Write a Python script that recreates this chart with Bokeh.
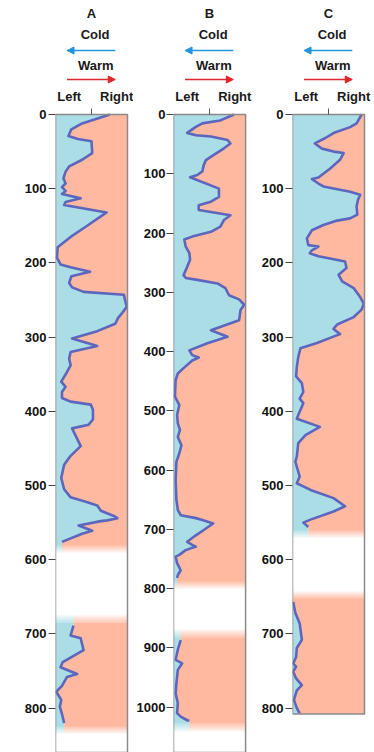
from bokeh.plotting import figure
from bokeh.layouts import row
from bokeh.models import Range1d, FixedTicker, Label, Arrow, NormalHead
from bokeh.embed import file_html
from bokeh.resources import INLINE

# ---------------- data (depth, position 0=Left .. 1=Right) ----------------
a1_depth = [0, 12, 20, 29, 33, 36, 52, 61, 70, 77, 86, 93, 98, 103, 107, 113, 118, 122, 132, 150,
            165, 179, 193, 202, 206, 212, 218, 227, 233, 239, 243, 252, 259, 267, 274, 282, 292, 302,
            312, 320, 329, 338, 347, 360, 367, 374, 382, 387, 391, 398, 411, 418, 423, 447, 460, 472,
            490, 505, 516, 522, 527, 534, 541, 544, 547, 548, 554, 561, 565, 576]
a1_pos = [.755, .37, .22, .18, .31, .50, .51, .37, .19, .14, .11, .14, .09, .14, .09, .35, .14, .12, .71, .44,
          .21, .03, .02, .07, .21, .48, .22, .19, .23, .39, .95, .97, .99, .93, .87, .83, .58, .23,
          .58, .21, .19, .21, .16, .08, .14, .09, .09, .21, .49, .52, .52, .46, .23, .35, .21, .12,
          .08, .12, .21, .42, .58, .63, .81, .86, .72, .63, .32, .51, .37, .09]
a2_depth = [689, 702, 706, 722, 738, 745, 754, 758, 770, 778, 789, 798, 808, 820]
a2_pos = [.25, .21, .35, .39, .10, .07, .30, .16, .09, .01, .08, .06, .09, .12]

b1_depth = [0, 10, 15, 21, 31, 35, 37, 43, 49, 57, 68, 77, 85, 96, 102, 106, 125, 139, 147, 153,
            161, 170, 178, 189, 198, 206, 211, 223, 234, 245, 257, 271, 276, 279, 285, 293, 305, 312,
            321, 330, 347, 364, 375, 386, 398, 406, 410, 415, 430, 437, 448, 476, 490, 507, 521, 532,
            544, 558, 572, 586, 617, 650, 667, 676, 681, 684, 690, 701, 710, 721, 726, 729, 735, 743,
            746, 757, 769, 777, 782]
b1_pos = [.84, .65, .40, .31, .19, .31, .52, .75, .79, .70, .56, .45, .42, .40, .33, .23, .63, .63, .52, .35,
          .35, .79, .70, .65, .52, .26, .15, .17, .22, .23, .19, .14, .17, .33, .61, .72, .77, .91,
          .98, .93, .91, .52, .75, .47, .22, .26, .35, .26, .12, .06, .03, .02, .08, .05, .06, .09,
          .06, .11, .08, .04, .03, .04, .06, .10, .31, .40, .55, .42, .31, .19, .26, .31, .17, .08,
          .03, .05, .10, .06, .05]
b2_depth = [887, 903, 920, 926, 937, 960, 977, 993, 1010, 1016, 1022, 1023]
b2_pos = [.10, .06, .03, .12, .06, .04, .03, .06, .05, .10, .19, .22]

c1_depth = [0, 12, 17, 25, 32, 39, 46, 50, 52, 61, 73, 85, 87, 93, 97, 104, 108, 115, 124, 135,
            140, 143, 149, 156, 167, 176, 178, 183, 187, 191, 194, 198, 207, 216, 225, 234, 246, 255,
            263, 273, 283, 289, 296, 300, 308, 315, 327, 340, 353, 362, 374, 383, 389, 405, 410, 421,
            432, 443, 461, 468, 488, 497, 506, 517, 528, 535, 546, 550, 556]
c1_pos = [.96, .89, .80, .57, .45, .31, .41, .57, .71, .66, .52, .36, .27, .36, .43, .80, .94, .91, .89, .90,
          .80, .62, .43, .27, .20, .22, .36, .27, .24, .36, .52, .73, .75, .64, .69, .85, .94, .99,
          .96, .85, .62, .57, .66, .55, .34, .11, .08, .06, .05, .13, .15, .10, .15, .08, .06, .38,
          .18, .08, .06, .04, .10, .06, .25, .57, .73, .57, .25, .15, .22]
c2_depth = [657, 672, 686, 708, 719, 731, 740, 744, 751, 760, 769, 776, 789, 800, 807]
c2_pos = [.01, .04, .10, .13, .06, .05, .01, .05, .01, .05, .13, .06, .02, .06, .10]

a_ticks = [0, 100, 200, 300, 400, 500, 600, 700, 800]
b_ticks = [0, 100, 200, 300, 400, 500, 600, 700, 800, 900, 1000]
c_ticks = [0, 100, 200, 300, 400, 500, 600, 700, 800]
c_depth_max = 808

# ---------------- style / layout ----------------
BLUE = "#aadde6"
SALMON = "#ffb9a0"
LINE = "#5d66bd"
FRAME = "#8a8a8a"
FONT = "Liberation Sans"
HEIGHT = 752
TOP = 114          # pixel row of depth 0


def segment(p, d, x, s, top_mode, bottom_mode, dmax):
    dd = list(d)
    xx = list(x)
    solid = 3.0 / s
    fade_n = 8
    step = 1.0 / s
    if top_mode == "fade":
        dd = [d[0] - solid] + dd
        xx = [x[0]] + xx
    if bottom_mode == "fade":
        dd = dd + [d[-1] + solid]
        xx = xx + [x[-1]]
    elif bottom_mode == "edge":
        dd = dd + [dmax]
        xx = xx + [x[-1]]
    p.harea(x1=[0] * len(dd), x2=xx, y=dd, fill_color=BLUE)
    p.harea(x1=xx, x2=[1] * len(dd), y=dd, fill_color=SALMON)
    for mode, edge, xe, sign in (("t", dd[0], xx[0], -1), ("b", dd[-1], xx[-1], 1)):
        if (mode == "t" and top_mode != "fade") or (mode == "b" and bottom_mode != "fade"):
            continue
        tops = [edge + sign * k * step for k in range(fade_n)]
        bots = [edge + sign * (k + 1) * step for k in range(fade_n)]
        alphas = [1 - (k + 1) / (fade_n + 1) for k in range(fade_n)]
        p.quad(left=0, right=xe, top=tops, bottom=bots, fill_color=BLUE,
               fill_alpha=alphas, line_color=None)
        p.quad(left=xe, right=1, top=tops, bottom=bots, fill_color=SALMON,
               fill_alpha=alphas, line_color=None)
    p.line(x, d, line_color=LINE, line_width=2.6, line_join="round")


def panel(letter, segs, s, box_max, ticks, bl, frame_w, br, standoff=2):
    top_units = TOP / s
    view_max = (HEIGHT - TOP) / s
    if box_max is None:
        box_max = view_max
    x_max = (frame_w + br) / frame_w
    p = figure(width=bl + frame_w + br, height=HEIGHT, output_backend="svg", toolbar_location=None,
               x_range=Range1d(0, x_max), y_range=Range1d(view_max, -top_units),
               x_axis_location=None, y_axis_location="left",
               min_border_left=bl, min_border_right=0, min_border_top=0, min_border_bottom=0)
    p.grid.visible = False
    p.outline_line_color = None
    p.background_fill_color = "white"
    p.border_fill_color = "white"
    for (d, x, tm, bm) in segs:
        segment(p, d, x, s, tm, bm, box_max)

    # panel box and the middle tick on top
    p.quad(left=0, right=1, top=0, bottom=box_max, fill_color=None,
           line_color=FRAME, line_width=1.5)
    p.segment(x0=[0.5], y0=[0], x1=[0.5], y1=[-6 / s], line_color="#555555", line_width=1)

    ya = p.yaxis[0]
    ya.ticker = FixedTicker(ticks=ticks)
    ya.axis_line_color = None
    ya.major_tick_out = 7
    ya.major_tick_in = 0
    ya.minor_tick_line_color = None
    ya.major_tick_line_color = "#444444"
    ya.major_label_standoff = standoff
    ya.major_label_text_font = FONT
    ya.major_label_text_font_style = "bold"
    ya.major_label_text_font_size = "13px"
    ya.major_label_text_color = "#111111"

    def ypx(y):
        return (y - TOP) / s

    def lab(text, x, y):
        p.add_layout(Label(x=x, y=ypx(y), text=text, text_font=FONT, text_font_style="bold",
                           text_font_size="13px", text_align="center", text_baseline="middle",
                           text_color="#1a1a1a"))

    lab(letter, 0.5, 13)
    lab("Cold", 0.55, 34)
    lab("Warm", 0.56, 65)
    lab("Left", 0.19, 96)
    lab("Right", 0.85, 96)
    p.add_layout(Arrow(x_start=0.83, y_start=ypx(50), x_end=0.16, y_end=ypx(50),
                       line_color="#1f96dc", line_width=1.5,
                       end=NormalHead(size=7, fill_color="#1f96dc", line_color="#1f96dc")))
    p.add_layout(Arrow(x_start=0.16, y_start=ypx(79), x_end=0.83, y_end=ypx(79),
                       line_color="#e0262a", line_width=1.5,
                       end=NormalHead(size=7, fill_color="#e0262a", line_color="#e0262a")))
    return p


S_A = 0.742
S_B = 0.5927
S_C = 0.742

pA = panel("A", [(a1_depth, a1_pos, "edge", "fade"), (a2_depth, a2_pos, "fade", "fade")],
           S_A, None, a_ticks, 55, 72, 6)
pB = panel("B", [(b1_depth, b1_pos, "edge", "fade"), (b2_depth, b2_pos, "fade", "fade")],
           S_B, None, b_ticks, 39, 73, 7, standoff=1)
pC = panel("C", [(c1_depth, c1_pos, "edge", "fade"), (c2_depth, c2_pos, "fade", "edge")],
           S_C, c_depth_max, c_ticks, 40, 72, 10)

layout = row(pA, pB, pC)
open("out.html", "w").write(file_html(layout, INLINE))
